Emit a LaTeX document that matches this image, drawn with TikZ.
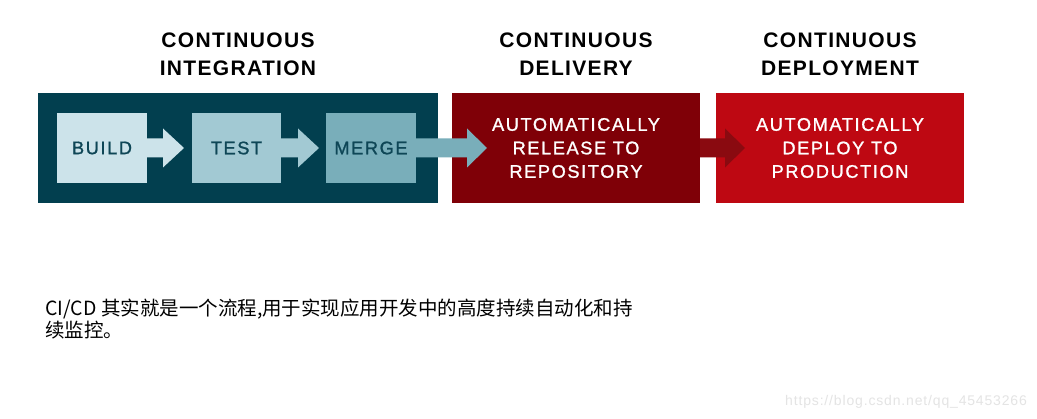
\documentclass[tikz,border=0pt]{standalone}
\usepackage{fontspec}
\usetikzlibrary{calc}
\newfontfamily\hdfont[LetterSpace=6.3]{Liberation Sans}
\newfontfamily\bxfont[LetterSpace=8.8,FakeBold=1.2]{Liberation Sans}
\newfontfamily\wmfont[LetterSpace=6]{Liberation Sans}
\newfontfamily\cjkfont{Noto Sans CJK SC}
\definecolor{cidark}{HTML}{023F4F}
\definecolor{buildc}{HTML}{CCE3EA}
\definecolor{testc}{HTML}{A2C9D3}
\definecolor{mergec}{HTML}{79AEBA}
\definecolor{innertext}{HTML}{0E4656}
\definecolor{cdred}{HTML}{7F0007}
\definecolor{cdpred}{HTML}{BE0812}
\definecolor{redarrow}{HTML}{8A0A10}
\definecolor{wmgray}{HTML}{E4E4E4}
\newcommand\flowarrow[4]{%
  \fill[#4] ($(#1.east)+(0,-9.5)$) -- ++(#2,0) -- ++(0,-10) -- ++(#3,19.5)
    -- ++(-#3,19.5) -- ++(0,-10) -- ++(-#2,0) -- cycle;}
\tikzset{
  bigbox/.style={minimum height=110pt, inner sep=0pt, outer sep=0pt},
  stepbox/.style={minimum height=70pt, inner sep=0pt, outer sep=0pt,
    text=innertext, font=\bxfont\fontsize{18.2}{23.5}\selectfont},
  redbox/.style={bigbox, minimum width=248pt, text=white, align=center,
    font=\bxfont\fontsize{18.2}{23.5}\selectfont},
  header/.style={align=center, inner sep=0pt,
    font=\hdfont\bfseries\fontsize{21}{28}\selectfont},
  note/.style={anchor=base west, inner sep=0pt, font=\cjkfont\fontsize{19.5}{22}\selectfont}
}
\begin{document}
\begin{tikzpicture}[x=1pt,y=-1pt]
\useasboundingbox[fill=white] (0,0) rectangle (1037,419);
% headers
\node[header] (hci) at (238,54.5) {CONTINUOUS\\INTEGRATION};
\node[header] (hcd) at (576,54.5) {CONTINUOUS\\DELIVERY};
\node[header] (hcdp) at (840,54.5) {CONTINUOUS\\DEPLOYMENT};
% boxes
\node[bigbox, fill=cidark, minimum width=400pt] (ci) at (238,148) {};
\node[stepbox, fill=buildc, minimum width=90pt] (build) at (102,148) {BUILD};
\node[stepbox, fill=testc, minimum width=89pt] (test) at (236.5,148) {TEST};
\node[stepbox, fill=mergec, minimum width=90pt] (merge) at (371,148) {MERGE};
\node[redbox, fill=cdred] (cd) at (576,148) {AUTOMATICALLY\\RELEASE TO\\REPOSITORY};
\node[redbox, fill=cdpred] (cdp) at (840,148) {AUTOMATICALLY\\DEPLOY TO\\PRODUCTION};
% arrows
\flowarrow{build}{16}{21}{buildc}
\flowarrow{test}{17}{21}{testc}
\flowarrow{merge}{51}{20}{mergec}
\flowarrow{cd}{25}{20}{redarrow}
% text
\node[note] (t1) at (45,315.7) {CI/CD 其实就是一个流程,用于实现应用开发中的高度持续自动化和持};
\node[note] (t2) at (45,337.5) {续监控。};
\node[anchor=base west, inner sep=0pt, text=wmgray, font=\wmfont\fontsize{14}{16}\selectfont] (wm) at (785,405.5) {https://blog.csdn.net/qq\_45453266};
\end{tikzpicture}
\end{document}
